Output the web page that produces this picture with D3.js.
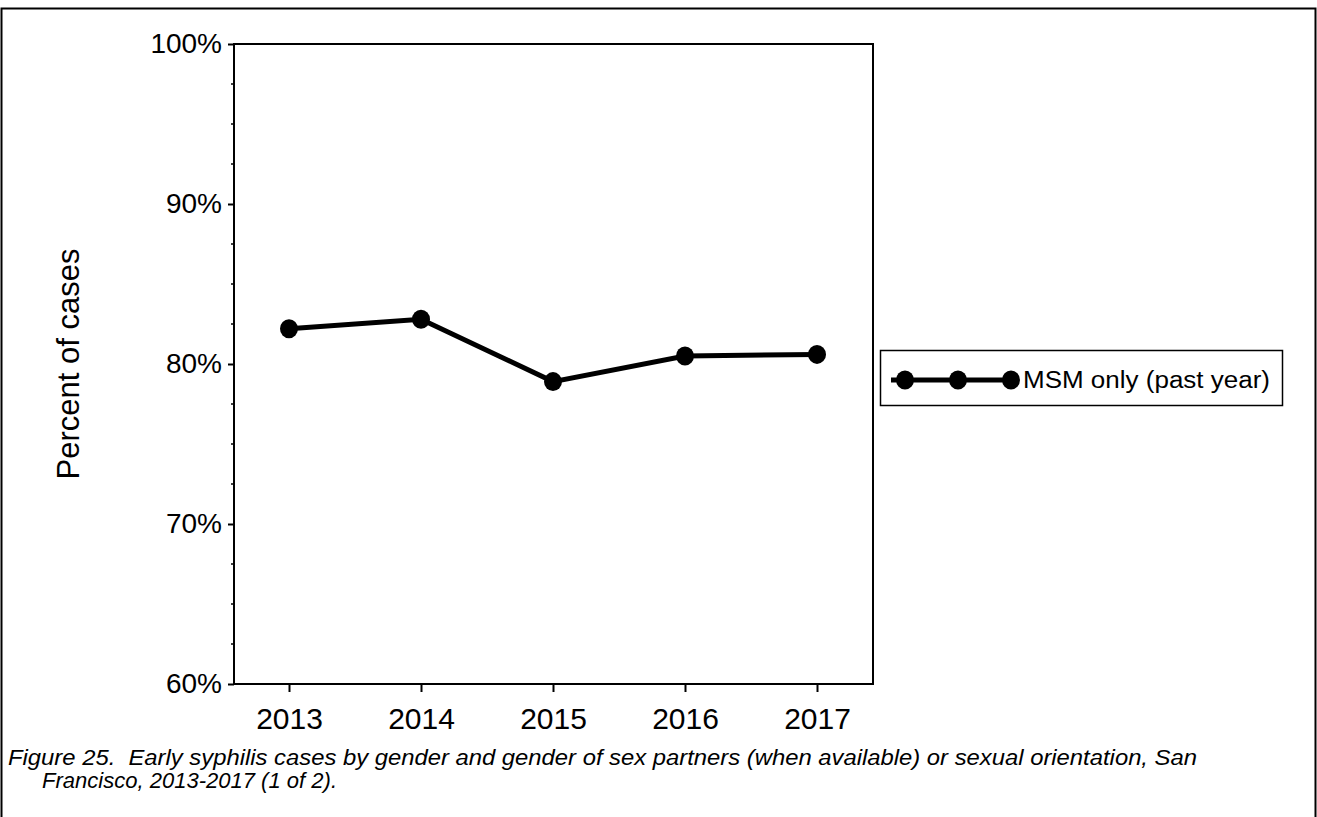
<!DOCTYPE html>
<html><head><meta charset="utf-8">
<script src="https://cdn.jsdelivr.net/npm/d3@7"></script>
<style>body{margin:0;background:#fff;}svg{display:block;font-family:"Liberation Sans",Arial,sans-serif;}</style>
</head><body><svg id="c" width="1317" height="817"></svg>
<script>
const years = ["2013","2014","2015","2016","2017"];
const msmOnly = [82.2, 82.8, 78.9, 80.5, 80.6];
const yTicks = [60,70,80,90,100];
const seriesName = "MSM only (past year)";
const captionLines = ["Figure 25.  Early syphilis cases by gender and gender of sex partners (when available) or sexual orientation, San",
                      "Francisco, 2013-2017 (1 of 2)."];

const svg = d3.select("#c");
const L=234, R=873, T=44, B=684;
svg.append("path").attr("d","M1.5,830 V8.5 H1315.5 V830").attr("fill","none").attr("stroke","#000").attr("stroke-width",2);

const x = d3.scalePoint().domain(years).range([289,817]);
const y = d3.scaleLinear().domain([60,100]).range([B,T]);

svg.append("rect").attr("x",L).attr("y",T).attr("width",R-L).attr("height",B-T).attr("fill","none").attr("stroke","#000").attr("stroke-width",2);

const ya = svg.append("g").attr("transform",`translate(${L},0)`)
  .call(d3.axisLeft(y).tickValues(yTicks).tickFormat(d=>d+"%").tickSize(6).tickPadding(6));
ya.select(".domain").remove();
ya.selectAll("line").attr("stroke","#000").attr("stroke-width",2);
ya.selectAll("text").attr("font-size",28).attr("fill","#000").attr("font-family","Liberation Sans, Arial, sans-serif");
const minor = d3.range(60,100.01,2.5).filter(v=>v%10!==0);
svg.append("g").selectAll("line").data(minor).join("line")
  .attr("x1",L-3).attr("x2",L).attr("y1",d=>y(d)).attr("y2",d=>y(d)).attr("stroke","#000").attr("stroke-width",1.5);

const xa = svg.append("g").attr("transform",`translate(0,${B})`)
  .call(d3.axisBottom(x).tickSize(8).tickPadding(16));
xa.select(".domain").remove();
xa.selectAll("line").attr("stroke","#000").attr("stroke-width",2);
xa.selectAll("text").attr("font-size",30).attr("fill","#000").attr("font-family","Liberation Sans, Arial, sans-serif");

svg.append("text").attr("transform","translate(79,364) rotate(-90)").attr("text-anchor","middle")
  .attr("font-size",31).text("Percent of cases");

const data = years.map((yr,i)=>({yr,v:msmOnly[i]}));
svg.append("path").datum(data).attr("fill","none").attr("stroke","#000").attr("stroke-width",5)
  .attr("d",d3.line().x(d=>x(d.yr)).y(d=>y(d.v)));
svg.append("g").selectAll("ellipse").data(data).join("ellipse")
  .attr("cx",d=>x(d.yr)).attr("cy",d=>y(d.v)).attr("rx",9).attr("ry",9.5).attr("fill","#000");

const lg = svg.append("g");
lg.append("rect").attr("x",880.5).attr("y",350.5).attr("width",402).attr("height",55).attr("fill","#fff").attr("stroke","#000").attr("stroke-width",1.5);
lg.append("line").attr("x1",891).attr("x2",1017).attr("y1",380).attr("y2",380).attr("stroke","#000").attr("stroke-width",5);
lg.selectAll("ellipse").data([905,958,1011]).join("ellipse").attr("cx",d=>d).attr("cy",380).attr("rx",9).attr("ry",9.5).attr("fill","#000");
lg.append("text").attr("x",1023).attr("y",388).attr("font-size",23).attr("textLength",247).attr("lengthAdjust","spacingAndGlyphs").text(seriesName);

const cap = svg.append("g").attr("font-style","italic").attr("font-size",22);
cap.append("text").attr("x",8).attr("y",765).attr("textLength",1189).attr("lengthAdjust","spacingAndGlyphs").text(captionLines[0].replace("  ","\u00A0 "));
cap.append("text").attr("x",42).attr("y",788).attr("textLength",295).attr("lengthAdjust","spacingAndGlyphs").text(captionLines[1]);
</script></body></html>
